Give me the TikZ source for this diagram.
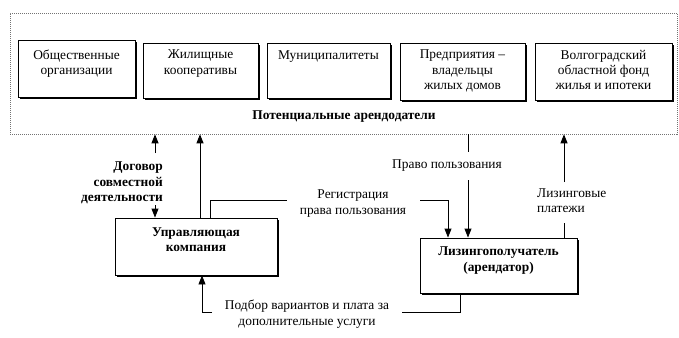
\documentclass[tikz,border=0pt]{standalone}
\usepackage{fontspec}
\setmainfont{Liberation Serif}
\usetikzlibrary{arrows.meta,shadows}
\begin{document}
\begin{tikzpicture}[x=1pt,y=-1pt,
  txt/.style={font=\fontsize{13.4}{15.3}\selectfont, inner sep=0pt, align=center},
  btxt/.style={txt, font=\fontsize{13.4}{15.3}\selectfont\bfseries},
  sbox/.style={draw, line width=0.9pt, fill=white, inner sep=0pt,
    general shadow={fill=black, shadow xshift=2pt, shadow yshift=-2pt}},
  conn/.style={line width=0.9pt},
  arr/.style={conn, -{Triangle[width=7pt,length=9pt]}},
  dotbox/.style={draw=black!55, line width=0.6pt, dash pattern=on 1pt off 1pt, inner sep=0pt}
  ]
\useasboundingbox (0,0) rectangle (679,337);

% outer dotted frame
\node[dotbox, minimum width=667pt, minimum height=121pt] (pot) at (343.5,73.5) {};

% top boxes
\node[sbox, minimum width=117pt, minimum height=57pt] (b1) at (76.5,68.5) {};
\node[sbox, minimum width=115pt, minimum height=55pt] (b2) at (200.5,70.5) {};
\node[sbox, minimum width=123pt, minimum height=55pt] (b3) at (328.5,70.5) {};
\node[sbox, minimum width=125pt, minimum height=57pt] (b4) at (462.5,71.5) {};
\node[sbox, minimum width=137pt, minimum height=57pt] (b5) at (603.5,71.5) {};

\node[txt, anchor=north] (t1) at (76.5,49.5) {Общественные\\организации};
\node[txt, anchor=north] (t2) at (200.5,50) {Жилищные\\кооперативы};
\node[txt, anchor=north] (t3) at (328.5,50.5) {Муниципалитеты};
\node[txt, anchor=north] (t4) at (462.5,50) {Предприятия –\\владельцы\\жилых домов};
\node[txt, anchor=north] (t5) at (603.5,50) {Волгоградский\\областной фонд\\жилья и ипотеки};

\node[btxt] (title) at (344,117) {Потенциальные арендодатели};

% lower boxes
\node[sbox, minimum width=162pt, minimum height=57pt] (uk) at (196,246.5) {};
\node[btxt, anchor=north] (ukt) at (196,227.5) {Управляющая\\компания};
\node[sbox, minimum width=157pt, minimum height=55pt] (liz) at (498.5,265.5) {};
\node[btxt, anchor=north] (lizt) at (498.5,247) {Лизингополучатель\\(арендатор)};

% labels
\node[btxt, align=right, anchor=north east] (dog) at (163,162) {Договор\\совместной\\деятельности};
\node[txt, anchor=north] (reg) at (353,190) {Регистрация\\права пользования};
\node[txt, anchor=north] (prav) at (447,159.5) {Право пользования};
\node[txt, align=left, anchor=north west] (lp) at (537,188.5) {Лизинговые\\платежи};
\node[txt, anchor=north] (pod) at (307,300) {Подбор вариантов и плата за\\дополнительные услуги};

% x positions
\coordinate (xa2) at (200,0);
\coordinate (xreg) at (210,0);
\coordinate (xr2) at (448,0);
\coordinate (xpb) at (202,0);
\coordinate (xpb2) at (460,0);

% connectors
\coordinate (a1s) at (155,153);
\draw[arr] (a1s) -- (a1s |- pot.south);
\coordinate (a1e) at (155,205);
\draw[arr] (a1e) -- (a1e |- uk.north);

\draw[arr] (uk.north -| xa2) -- (pot.south -| xa2);

\coordinate (r1) at (287,200);
\draw[conn] (uk.north -| xreg) |- (r1);
\coordinate (r2) at (420,200);
\draw[arr] (r2) -| (liz.north -| xr2);

\coordinate (p1) at (468,152);
\draw[conn] (pot.south -| p1) -- (p1);
\coordinate (p2) at (468,180);
\draw[arr] (p2) -- (liz.north -| p2);

\coordinate (l1) at (564,182);
\draw[arr] (l1) -- (l1 |- pot.south);
\coordinate (l2) at (564,223);
\draw[conn] (l2) -- (l2 |- liz.north);

\coordinate (pb1) at (212,312);
\draw[arr] (pb1) -| (uk.south -| xpb);
\coordinate (pb2) at (402,312);
\draw[conn] (pb2) -| (liz.south -| xpb2);
\end{tikzpicture}
\end{document}
